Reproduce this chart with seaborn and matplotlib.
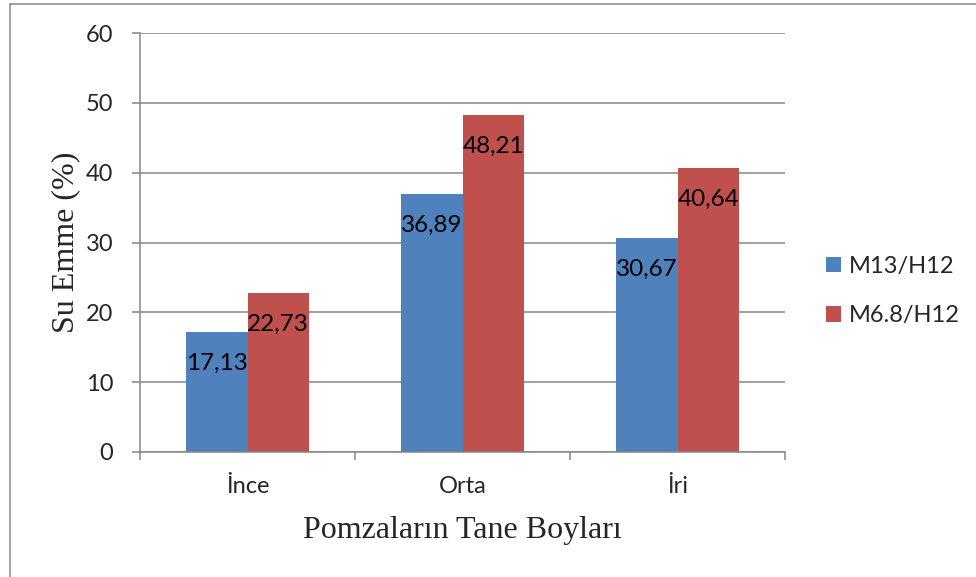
import numpy as np
import pandas as pd
import matplotlib.pyplot as plt
import seaborn as sns
from matplotlib.patches import Patch
from matplotlib.lines import Line2D

categories = ['İnce', 'Orta', 'İri']
series = ['M13/H12', 'M6.8/H12']
m13 = [17.13, 36.89, 30.67]
m68 = [22.73, 48.21, 40.64]
colors = ['#4F81BD', '#C0504D']

df = pd.DataFrame({
    'boy': categories * 2,
    'seri': [series[0]] * 3 + [series[1]] * 3,
    'deger': m13 + m68,
})

sns.set_style('white')
plt.rcParams['font.family'] = ['Lato', 'DejaVu Sans']
grid_c = '#868686'

fig = plt.figure(figsize=(9.76, 5.77), dpi=100)
ax = fig.add_axes([140/976, 1-452/577, 645/976, 419/577])

sns.barplot(data=df, x='boy', y='deger', hue='seri', palette=colors,
            width=0.572, gap=0, saturation=1, ax=ax, legend=False,
            edgecolor='none')

# value labels, inside end
for cont, vals in zip(ax.containers, [m13, m68]):
    for p, v in zip(cont.patches, vals):
        ax.annotate(f'{v:.2f}'.replace('.', ','), (p.get_x() + p.get_width()/2, v),
                    xytext=(0, -22.5), textcoords='offset points',
                    ha='center', va='center', fontsize=17.5, color='black')

ax.set_ylim(0, 60)
ax.set_xlim(-0.5, 2.5)
ax.set_yticks(range(0, 61, 10))
ax.yaxis.grid(True, color=grid_c, linewidth=1.1)
ax.set_axisbelow(True)
for s in ['top', 'right']:
    ax.spines[s].set_visible(False)
for s in ['left', 'bottom']:
    ax.spines[s].set_color(grid_c)
    ax.spines[s].set_linewidth(1.1)

ax.tick_params(axis='y', which='major', length=5.8, width=1.1, color=grid_c,
               pad=13.5, labelsize=17, left=True)
ax.tick_params(axis='x', which='major', length=0, pad=17, labelsize=17)
ax.set_xticks([-0.5, 0.5, 1.5, 2.5], minor=True)
ax.tick_params(axis='x', which='minor', length=5.8, width=1.1, color=grid_c,
               bottom=True, direction='out')

ax.set_xlabel('Pomzaların Tane Boyları', fontsize=23, family='Liberation Serif',
              labelpad=14)
ax.set_ylabel('Su Emme (%)', fontsize=23, family='Liberation Serif', labelpad=4)

handles = [Patch(facecolor=c, edgecolor='none') for c in colors]
fig.legend(handles, series, loc='center left', bbox_to_anchor=(826/976, 1-291/577),
           frameon=False, fontsize=17, handlelength=0.65, handleheight=0.65,
           handletextpad=0.3, labelspacing=1.2, borderaxespad=0, borderpad=0)

# outer chart border (top and left visible)
fig.add_artist(Line2D([9.5/976, 9.5/976], [0, 1-3.5/577], transform=fig.transFigure,
                      color=grid_c, linewidth=1.1))
fig.add_artist(Line2D([9.5/976, 1], [1-3.5/577, 1-3.5/577], transform=fig.transFigure,
                      color=grid_c, linewidth=1.1))

fig.savefig('out.png', dpi=100)
